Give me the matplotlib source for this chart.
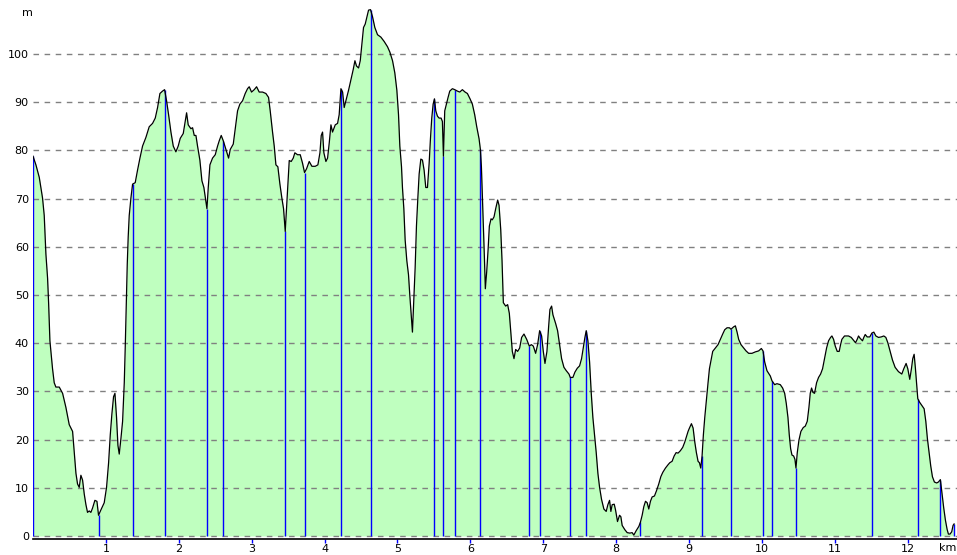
import numpy as np
import matplotlib
matplotlib.use("Agg")
import matplotlib.pyplot as plt

# Elevation profile (distance in km, elevation in m)
dist_km = [
    0.000, 0.040, 0.086, 0.131, 0.154, 0.177, 0.200, 0.214, 0.232, 0.250,
    0.268, 0.291, 0.314, 0.360, 0.406, 0.451, 0.497, 0.543, 0.566, 0.589,
    0.611, 0.634, 0.657, 0.680, 0.703, 0.726, 0.748, 0.771, 0.794, 0.817,
    0.849, 0.877, 0.899, 0.931, 0.977, 1.009, 1.037, 1.060, 1.082, 1.105,
    1.124, 1.146, 1.165, 1.183, 1.206, 1.229, 1.252, 1.265, 1.279, 1.293,
    1.306, 1.320, 1.343, 1.366, 1.402, 1.434, 1.467, 1.503, 1.549, 1.594,
    1.640, 1.677, 1.709, 1.741, 1.777, 1.805, 1.832, 1.860, 1.892, 1.924,
    1.960, 1.992, 2.020, 2.061, 2.088, 2.107, 2.129, 2.166, 2.189, 2.212,
    2.235, 2.257, 2.289, 2.317, 2.344, 2.372, 2.386, 2.404, 2.427, 2.463,
    2.500, 2.532, 2.555, 2.582, 2.610, 2.646, 2.683, 2.706, 2.747, 2.774,
    2.806, 2.838, 2.875, 2.911, 2.943, 2.966, 2.998, 3.035, 3.067, 3.103,
    3.149, 3.195, 3.231, 3.254, 3.286, 3.309, 3.332, 3.359, 3.387, 3.414,
    3.437, 3.460, 3.478, 3.497, 3.515, 3.542, 3.570, 3.592, 3.629, 3.666,
    3.698, 3.725, 3.753, 3.789, 3.826, 3.872, 3.908, 3.936, 3.954, 3.972,
    3.990, 4.018, 4.041, 4.064, 4.087, 4.109, 4.146, 4.178, 4.200,
    4.224, 4.247, 4.269, 4.292, 4.329, 4.361, 4.393, 4.416, 4.438, 4.466,
    4.489, 4.511, 4.534, 4.557, 4.580, 4.603, 4.630, 4.658, 4.689, 4.726,
    4.772, 4.817, 4.863, 4.895, 4.932, 4.963, 4.991, 5.014, 5.032, 5.055,
    5.068, 5.087, 5.105, 5.128, 5.151, 5.169, 5.187, 5.205, 5.224, 5.242,
    5.260, 5.279, 5.297, 5.320, 5.342, 5.365, 5.388, 5.411, 5.434, 5.452,
    5.470, 5.489, 5.507, 5.525, 5.548, 5.571, 5.598, 5.616, 5.630, 5.648,
    5.671, 5.694, 5.717, 5.753, 5.785, 5.822, 5.854, 5.890, 5.927, 5.959,
    5.995, 6.027, 6.059, 6.087, 6.119, 6.137, 6.151, 6.164, 6.178, 6.192,
    6.205, 6.224, 6.242, 6.260, 6.283, 6.301, 6.324, 6.347, 6.374, 6.393,
    6.416, 6.434, 6.452, 6.484, 6.511, 6.534, 6.553, 6.575, 6.598, 6.621,
    6.648, 6.676, 6.703, 6.735, 6.772, 6.808, 6.836, 6.863, 6.895, 6.922,
    6.950, 6.977, 7.000, 7.023, 7.050, 7.073, 7.091, 7.114, 7.132, 7.169,
    7.196, 7.224, 7.251, 7.283, 7.315, 7.352, 7.370, 7.406, 7.434, 7.466,
    7.498, 7.525, 7.548, 7.571, 7.589, 7.612, 7.635, 7.658, 7.680, 7.703,
    7.726, 7.749, 7.772, 7.799, 7.831, 7.863, 7.886, 7.909, 7.927, 7.945,
    7.973, 7.991, 8.018, 8.046, 8.064, 8.082, 8.119, 8.151, 8.187, 8.219,
    8.242, 8.274, 8.311,
    8.333, 8.356, 8.379, 8.402, 8.425, 8.447, 8.470, 8.493, 8.525, 8.553,
    8.584, 8.612, 8.639, 8.676, 8.712, 8.735, 8.767, 8.795, 8.822, 8.849,
    8.881, 8.913, 8.941, 8.963, 8.986, 9.005, 9.032, 9.055, 9.078, 9.100,
    9.123, 9.142, 9.160, 9.178, 9.196, 9.215, 9.237, 9.260, 9.279, 9.297,
    9.324, 9.361, 9.397, 9.429, 9.461, 9.489, 9.521, 9.553, 9.575, 9.612,
    9.635, 9.658, 9.680, 9.712, 9.749, 9.781, 9.817, 9.863, 9.909, 9.954,
    9.991, 10.014, 10.037, 10.068, 10.114, 10.137, 10.174, 10.205, 10.251, 10.283,
    10.311, 10.333, 10.356, 10.374, 10.393, 10.411, 10.434, 10.452, 10.466, 10.484,
    10.507, 10.534, 10.566, 10.594, 10.621, 10.644, 10.662, 10.680, 10.699, 10.721,
    10.749, 10.776, 10.804, 10.831, 10.858, 10.886, 10.913, 10.941, 10.959, 10.982,
    11.005, 11.032, 11.059, 11.078, 11.096, 11.132, 11.187, 11.224, 11.256, 11.283,
    11.306, 11.324, 11.347, 11.379, 11.397, 11.416, 11.443, 11.479, 11.507, 11.534,
    11.562, 11.598, 11.635, 11.671, 11.699, 11.726, 11.758, 11.790, 11.826, 11.872,
    11.918, 11.945, 11.977, 12.000, 12.027, 12.050, 12.068, 12.087, 12.105, 12.123,
    12.137, 12.160, 12.192, 12.224, 12.247, 12.269, 12.292, 12.315, 12.338, 12.365,
    12.397, 12.420, 12.447, 12.470, 12.493, 12.516, 12.539, 12.557, 12.580, 12.603,
    12.621, 12.635,
]
elev_m = [
    78.8, 77.0, 74.4, 70.1, 66.5, 58.5, 53.5, 48.4, 40.5, 37.6,
    34.7, 31.8, 30.9, 30.9, 29.6, 26.7, 23.1, 21.7, 17.3, 13.0,
    10.8, 10.1, 12.6, 11.6, 8.7, 6.5, 4.9, 5.2, 4.9, 5.8,
    7.4, 7.2, 4.3, 5.4, 6.9, 10.1, 15.2, 21.0, 25.3, 28.9,
    29.6, 24.6, 18.8, 17.0, 20.2, 23.8, 31.8, 39.0, 47.7, 56.4,
    62.1, 66.5, 70.1, 73.0, 73.3, 75.9, 78.4, 80.9, 82.7, 84.9,
    85.6, 86.7, 88.9, 91.8, 92.3, 92.6, 90.3, 87.4, 83.8, 80.9,
    79.7, 80.9, 82.5, 83.5, 86.0, 87.8, 85.3, 84.5, 84.7, 83.1,
    83.1, 80.9, 78.0, 73.7, 72.3, 69.4, 67.9, 72.3, 77.0, 78.4,
    79.1, 80.9, 82.0, 83.1, 82.0, 80.2, 78.4, 80.2, 81.3, 84.5,
    88.2, 89.6, 90.3, 91.8, 92.8, 93.2, 92.1, 92.6, 93.2, 92.1,
    92.1, 91.8, 91.0, 88.2, 83.8, 80.9, 77.0, 76.6, 73.0, 70.1,
    67.9, 63.2, 67.9, 73.0, 77.9, 77.7, 78.4, 79.5, 79.1, 79.1,
    77.3, 75.4, 76.2, 77.7, 76.7, 76.7, 77.0, 79.5, 83.1, 83.8,
    79.5, 77.7, 78.4, 81.6, 85.3, 83.8, 85.3, 85.6, 87.4,
    92.8, 92.1, 88.9, 90.3, 92.5, 94.7, 96.8, 98.6, 97.5, 97.1,
    98.6, 101.9, 105.5, 106.2, 107.7, 109.1, 109.2, 107.7, 105.5, 104.0,
    103.5, 102.6, 101.5, 100.4, 98.6, 96.1, 92.5, 87.4, 80.9, 76.6,
    72.3, 67.9, 61.4, 57.1, 54.2, 49.9, 46.2, 42.3, 49.1, 55.6,
    64.3, 70.1, 75.1, 78.2, 78.0, 75.9, 72.3, 72.3, 77.3, 82.4,
    86.7, 89.6, 90.7, 88.2, 87.1, 86.7, 86.7, 86.0, 78.8, 88.2,
    89.6, 91.0, 92.3, 92.8, 92.6, 92.3, 92.1, 92.6, 92.1, 91.8,
    90.7, 89.6, 87.4, 84.9, 82.4, 80.2, 76.6, 70.8, 64.3, 57.8,
    51.3, 54.9, 59.2, 64.3, 65.8, 65.6, 66.2, 67.9, 69.7, 68.6,
    63.6, 57.1, 48.4, 47.7, 48.0, 46.2, 42.6, 38.3, 36.8, 38.7,
    38.3, 39.0, 41.2, 41.9, 40.8, 39.4, 39.7, 39.4, 37.9, 39.7,
    42.6, 41.5, 38.3, 35.8, 38.3, 43.4, 47.0, 47.7, 45.9, 44.1,
    42.6, 39.7, 36.8, 35.0, 34.3, 33.6, 32.9, 32.9, 34.0, 34.8,
    35.3, 36.8, 39.0, 41.2, 42.6, 40.5, 36.1, 29.6, 24.6, 21.0,
    17.3, 13.0, 10.1, 7.6, 5.6, 5.1, 6.5, 7.4, 5.1, 6.5,
    6.6, 5.4, 3.0, 4.3, 4.0, 2.2, 1.3, 0.7, 0.6, 0.7,
    0.2, 1.1, 2.0,
    2.9, 4.3, 6.1, 7.2, 6.9, 5.6, 7.2, 8.1, 8.3, 9.4,
    10.8, 12.3, 13.2, 14.1, 14.8, 15.2, 15.5, 16.6, 17.3, 17.2,
    17.7, 18.4, 19.5, 20.6, 21.7, 22.4, 23.3, 22.4, 19.5, 17.3,
    15.5, 15.2, 14.1, 16.6, 21.0, 24.6, 28.2, 31.8, 34.7, 36.1,
    38.3, 39.0, 39.7, 40.8, 41.9, 42.8, 43.2, 43.2, 42.9, 43.4,
    43.6, 42.3, 40.8, 39.7, 39.0, 38.4, 37.9, 37.9, 38.2, 38.4,
    38.9, 38.4, 36.1, 34.3, 33.2, 32.2, 31.4, 31.6, 31.4, 30.7,
    29.6, 27.5, 24.6, 21.0, 18.1, 16.8, 16.6, 15.9, 14.1, 17.3,
    19.9, 21.7, 22.5, 22.8, 23.8, 26.7, 29.6, 30.7, 29.8, 29.6,
    31.8, 32.9, 33.6, 34.7, 36.8, 39.0, 40.5, 41.2, 41.5, 40.8,
    39.4, 38.3, 38.3, 39.7, 40.8, 41.5, 41.5, 41.2, 40.6, 40.1,
    40.8, 41.5, 41.0, 40.5, 41.2, 41.8, 41.3, 41.3, 42.1, 42.3,
    41.5, 41.2, 41.3, 41.5, 41.2, 40.1, 38.3, 36.5, 35.0, 34.1,
    33.6, 34.7, 35.8, 34.7, 32.5, 34.7, 36.8, 37.7, 34.7, 31.1,
    28.5, 27.8, 27.1, 26.4, 23.8, 20.2, 17.3, 14.5, 12.3, 11.2,
    11.0, 11.2, 11.7, 8.7, 5.8, 3.3, 1.4, 0.4, 0.4, 0.9,
    2.2, 2.5,
]

# Waypoint markers (km)
waypoints_km = [0.0, 0.899, 1.366, 1.805, 2.386, 2.610, 3.460, 3.725, 4.224,
                4.630, 5.507, 5.630, 5.785, 6.137, 6.808, 6.950, 7.370, 7.589,
                8.333, 9.178, 9.575, 10.014, 10.137, 10.466, 11.507, 12.137,
                12.447, 12.635]

x_ticks = list(range(1, 13))
y_ticks = list(range(0, 101, 10))

dist = np.array(dist_km)
elev = np.array(elev_m)
wp = np.array(waypoints_km)
wp_h = np.interp(wp, dist, elev)

W, H = 957, 555
fig = plt.figure(figsize=(W / 100, H / 100), dpi=100)
ax = fig.add_axes([33 / W, 16 / H, 924 / W, 539 / H])

ax.fill_between(dist, 0, elev, color="#bfffbf", linewidth=0, zorder=1)
for y in y_ticks:
    ax.axhline(y, color="#808080", linewidth=1, linestyle=(0, (4, 4)), zorder=2)
ax.vlines(wp, 0, wp_h, color="#0000ff", linewidth=1, zorder=3)
ax.plot(dist, elev, color="black", linewidth=0.9, zorder=4)

ax.set_xlim(0, 12.675)
ax.set_ylim(-0.62, 111.2)

for s in ["top", "right", "left"]:
    ax.spines[s].set_visible(False)
ax.spines["bottom"].set_color("black")
ax.spines["bottom"].set_linewidth(1.2)

ax.set_xticks(x_ticks)
ax.set_xticklabels([str(t) for t in x_ticks])
ax.set_yticks(y_ticks)
ax.set_yticklabels([str(t) for t in y_ticks])
ax.tick_params(axis="x", direction="out", length=3, width=1, color="#0000ff",
               labelsize=8, pad=0.5)
ax.tick_params(axis="y", length=0, labelsize=8, pad=3)

fig.text(948 / W, 1 - 548 / H, "km", ha="center", va="center", fontsize=8)
fig.text(27 / W, 1 - 13 / H, "m", ha="center", va="center", fontsize=8)

fig.savefig("out.png", dpi=100)
